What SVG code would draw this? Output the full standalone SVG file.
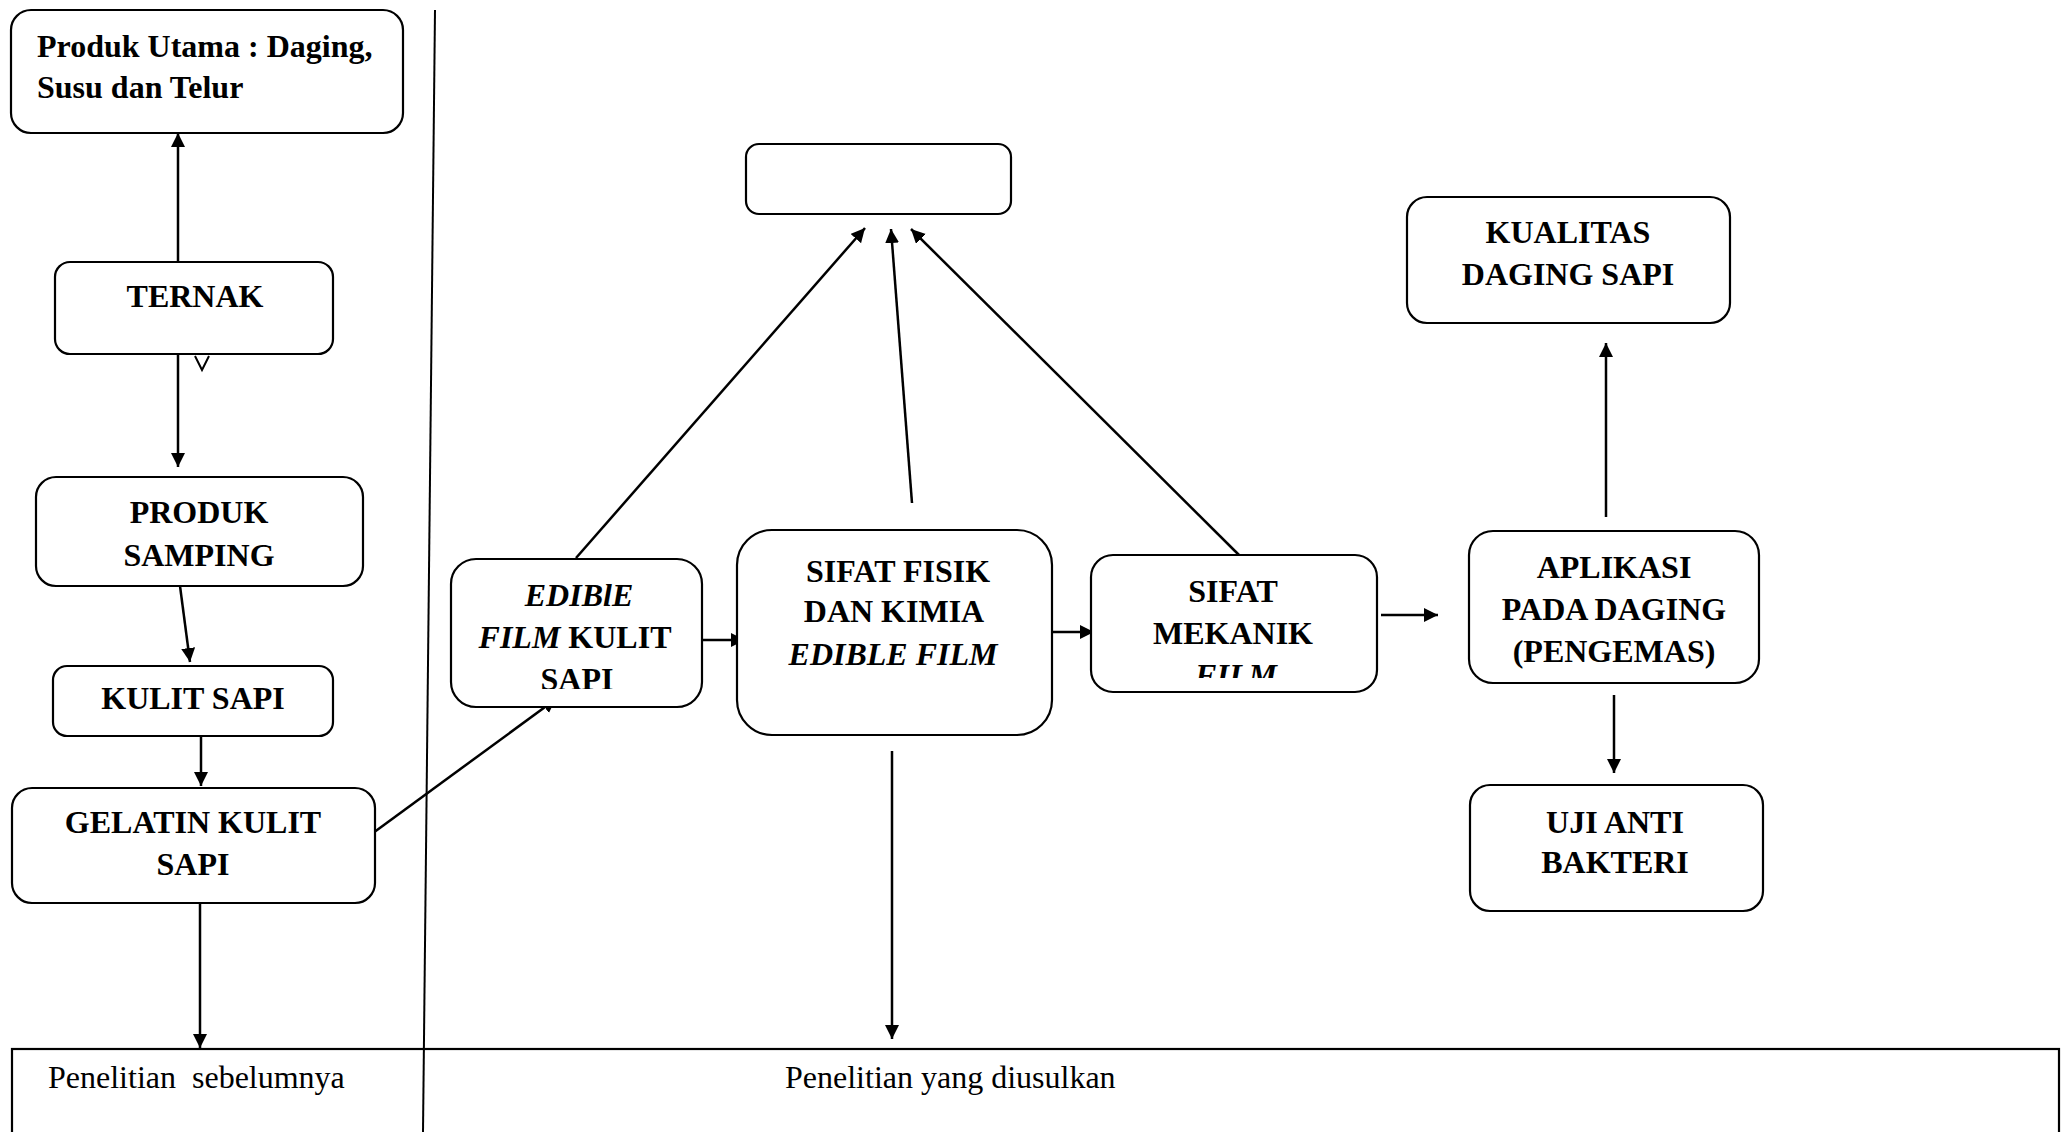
<svg xmlns="http://www.w3.org/2000/svg" width="2072" height="1132" viewBox="0 0 2072 1132">
<style>
.box{fill:#fff;stroke:#000;stroke-width:2.2}
.t{font-family:"Liberation Serif","Times New Roman",serif;font-size:32px;font-weight:bold;fill:#000}
.c{text-anchor:middle}
.i{font-style:italic}
.r{font-family:"Liberation Serif","Times New Roman",serif;font-size:32px;fill:#000}
.ln{fill:none;stroke:#000;stroke-width:2.5}
</style>
<defs>
<marker id="ah" markerUnits="userSpaceOnUse" markerWidth="15" markerHeight="15" refX="14" refY="7" orient="auto">
<path d="M0,0 L14,7 L0,14 z" fill="#000"/>
</marker>
<clipPath id="clipEdible"><rect x="451" y="559" width="251" height="130"/></clipPath>
<clipPath id="clipMek"><rect x="1090" y="555" width="287" height="123"/></clipPath>
</defs>
<rect width="2072" height="1132" fill="#fff"/>

<g id="frame">
<line x1="435" y1="10" x2="423" y2="1132" stroke="#000" stroke-width="2"/>
<rect x="12" y="1049" width="2047" height="200" fill="none" stroke="#000" stroke-width="2.2"/>
<text class="r" x="48" y="1088" xml:space="preserve">Penelitian  sebelumnya</text>
<text class="r" x="785" y="1088">Penelitian yang diusulkan</text>
</g>

<g id="connectors">
<line class="ln" x1="178" y1="262" x2="178" y2="133" marker-end="url(#ah)"/>
<line class="ln" x1="178" y1="354" x2="178" y2="467" marker-end="url(#ah)"/>
<path d="M195,356 L202,370 L209,356" fill="none" stroke="#000" stroke-width="2"/>
<line class="ln" x1="180" y1="586" x2="190" y2="662" marker-end="url(#ah)"/>
<line class="ln" x1="201" y1="736" x2="201" y2="786" marker-end="url(#ah)"/>
<line class="ln" x1="200" y1="903" x2="200" y2="1048" marker-end="url(#ah)"/>
<line class="ln" x1="373" y1="833" x2="556" y2="699" marker-end="url(#ah)"/>
<line class="ln" x1="576" y1="558" x2="865" y2="228" marker-end="url(#ah)"/>
<line class="ln" x1="912" y1="503" x2="891" y2="229" marker-end="url(#ah)"/>
<line class="ln" x1="1239" y1="555" x2="911" y2="229" marker-end="url(#ah)"/>
<line class="ln" x1="702" y1="640" x2="745" y2="640" marker-end="url(#ah)"/>
<line class="ln" x1="1051" y1="632" x2="1094" y2="632" marker-end="url(#ah)"/>
<line class="ln" x1="1381" y1="615" x2="1438" y2="615" marker-end="url(#ah)"/>
<line class="ln" x1="1606" y1="517" x2="1606" y2="343" marker-end="url(#ah)"/>
<line class="ln" x1="1614" y1="695" x2="1614" y2="773" marker-end="url(#ah)"/>
<line class="ln" x1="892" y1="751" x2="892" y2="1039" marker-end="url(#ah)"/>
</g>

<g id="produk-utama">
<rect class="box" x="11" y="10" width="392" height="123" rx="20"/>
<text class="t" x="37" y="57">Produk Utama : Daging,</text>
<text class="t" x="37" y="98">Susu dan Telur</text>
</g>

<g id="ternak">
<rect class="box" x="55" y="262" width="278" height="92" rx="15"/>
<text class="t c" x="195" y="307">TERNAK</text>
</g>

<g id="produk-samping">
<rect class="box" x="36" y="477" width="327" height="109" rx="20"/>
<text class="t c" x="199" y="523">PRODUK</text>
<text class="t c" x="199" y="566">SAMPING</text>
</g>

<g id="kulit-sapi">
<rect class="box" x="53" y="666" width="280" height="70" rx="14"/>
<text class="t c" x="193" y="709">KULIT SAPI</text>
</g>

<g id="gelatin">
<rect class="box" x="12" y="788" width="363" height="115" rx="20"/>
<text class="t c" x="193" y="833">GELATIN KULIT</text>
<text class="t c" x="193" y="875">SAPI</text>
</g>

<g id="empty-box">
<rect class="box" x="746" y="144" width="265" height="70" rx="13"/>
</g>

<g id="edible-film">
<rect class="box" x="451" y="559" width="251" height="148" rx="25"/>
<g clip-path="url(#clipEdible)">
<text class="t c i" x="579" y="606">EDIBlE</text>
<text class="t c" x="575" y="648"><tspan class="i">FILM</tspan> KULIT</text>
<text class="t c" x="577" y="690">SAPI</text>
</g>
</g>

<g id="sifat-fisik">
<rect class="box" x="737" y="530" width="315" height="205" rx="35"/>
<text class="t c" x="898" y="582">SIFAT FISIK</text>
<text class="t c" x="894" y="622">DAN KIMIA</text>
<text class="t c i" x="893" y="665">EDIBLE FILM</text>
</g>

<g id="sifat-mekanik">
<rect class="box" x="1091" y="555" width="286" height="137" rx="22"/>
<g clip-path="url(#clipMek)">
<text class="t c" x="1233" y="602">SIFAT</text>
<text class="t c" x="1233" y="644">MEKANIK</text>
<text class="t c i" x="1236" y="686">FILM</text>
</g>
</g>

<g id="kualitas">
<rect class="box" x="1407" y="197" width="323" height="126" rx="20"/>
<text class="t c" x="1568" y="243">KUALITAS</text>
<text class="t c" x="1568" y="285">DAGING SAPI</text>
</g>

<g id="aplikasi">
<rect class="box" x="1469" y="531" width="290" height="152" rx="24"/>
<text class="t c" x="1614" y="578">APLIKASI</text>
<text class="t c" x="1614" y="620">PADA DAGING</text>
<text class="t c" x="1614" y="662">(PENGEMAS)</text>
</g>

<g id="uji-anti-bakteri">
<rect class="box" x="1470" y="785" width="293" height="126" rx="20"/>
<text class="t c" x="1615" y="833">UJI ANTI</text>
<text class="t c" x="1615" y="873">BAKTERI</text>
</g>
</svg>
